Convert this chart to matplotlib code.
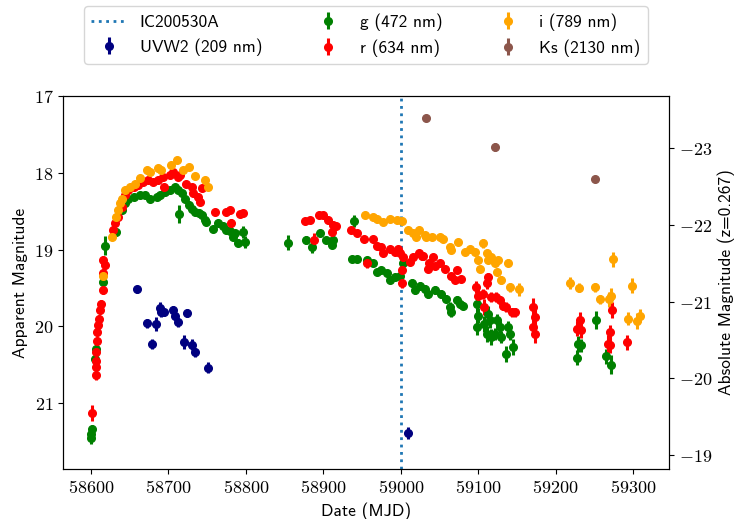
import matplotlib
matplotlib.use("Agg")
import matplotlib.pyplot as plt
from matplotlib.ticker import FuncFormatter, MultipleLocator
import numpy as np

plt.rcParams['mathtext.fontset'] = 'cm'

# ---------------- data ----------------
neutrino_mjd = 59000.0
neutrino_label = "IC200530A"
dist_mod = 40.68

uvw2_mjd = [58660, 58673, 58679, 58684, 58689, 58691, 58695, 58706, 58709, 58713,
            58720, 58724, 58731, 58735, 58751, 59009]
uvw2_mag = [19.52, 19.96, 20.23, 19.97, 19.76, 19.82, 19.82, 19.79, 19.86, 19.95,
            20.21, 19.83, 20.24, 20.34, 20.54, 21.39]
uvw2_err = [0.05, 0.06, 0.07, 0.09, 0.08, 0.06, 0.05, 0.05, 0.06, 0.06,
            0.09, 0.05, 0.07, 0.06, 0.07, 0.08]

g_mjd = [58599.6, 58600, 58601, 58605, 58607, 58616, 58618, 58633, 58640, 58644,
         58648, 58655, 58663, 58670, 58676, 58685, 58689, 58696, 58702, 58708,
         58713, 58714, 58717, 58721, 58726, 58730, 58734, 58739, 58743, 58747,
         58749, 58758, 58764, 58771, 58775, 58779, 58784, 58786, 58790, 58796,
         58799, 58854, 58878, 58885, 58896, 58904, 58911, 58913, 58937, 58940,
         58943, 58956, 58964, 58969, 58975, 58982, 58986, 58992, 58999, 59003,
         59014, 59018, 59025, 59031, 59035, 59044, 59052, 59059, 59063, 59065,
         59072, 59076, 59080, 59098, 59100, 59098, 59108, 59113, 59115, 59111,
         59117, 59121, 59124, 59128, 59130, 59138, 59141, 59136, 59145, 59227,
         59229, 59233, 59252, 59265, 59271]
g_mag = [21.46, 21.40, 21.34, 20.42, 20.29, 19.42, 18.95, 18.77, 18.49, 18.40,
         18.34, 18.31, 18.29, 18.29, 18.34, 18.31, 18.29, 18.25, 18.23, 18.18,
         18.23, 18.54, 18.27, 18.34, 18.42, 18.47, 18.51, 18.53, 18.55, 18.62,
         18.64, 18.73, 18.66, 18.70, 18.75, 18.76, 18.84, 18.79, 18.91, 18.77,
         18.90, 18.91, 18.88, 18.97, 18.79, 18.88, 18.94, 18.88, 19.12, 18.63,
         19.12, 19.14, 19.18, 19.29, 19.27, 19.31, 19.40, 19.36, 19.34, 19.18,
         19.44, 19.53, 19.47, 19.51, 19.58, 19.53, 19.58, 19.64, 19.75, 19.82,
         19.66, 19.71, 19.73, 19.71, 19.86, 20.01, 19.97, 19.84, 19.92, 20.10,
         20.14, 20.10, 19.92, 20.01, 20.14, 20.01, 20.10, 20.36, 20.27, 20.41,
         20.23, 20.25, 19.92, 20.39, 20.50]
g_err = [0.08, 0.06, 0.06, 0.05, 0.05, 0.05, 0.12, 0.03, 0.03, 0.03,
         0.03, 0.03, 0.03, 0.03, 0.03, 0.03, 0.03, 0.03, 0.03, 0.03,
         0.03, 0.12, 0.03, 0.03, 0.03, 0.03, 0.03, 0.03, 0.03, 0.03,
         0.03, 0.03, 0.03, 0.03, 0.03, 0.04, 0.04, 0.04, 0.05, 0.08,
         0.08, 0.10, 0.05, 0.08, 0.04, 0.04, 0.04, 0.04, 0.04, 0.08,
         0.04, 0.04, 0.04, 0.04, 0.04, 0.04, 0.04, 0.04, 0.04, 0.06,
         0.05, 0.05, 0.05, 0.05, 0.05, 0.05, 0.05, 0.05, 0.06, 0.06,
         0.05, 0.05, 0.05, 0.12, 0.10, 0.10, 0.10, 0.10, 0.10, 0.10,
         0.10, 0.08, 0.08, 0.08, 0.08, 0.08, 0.08, 0.10, 0.10, 0.10,
         0.10, 0.08, 0.12, 0.10, 0.12]

r_mjd = [58601, 58606, 58606, 58606, 58606.5, 58607.4, 58608, 58609.4, 58610.7, 58611.6,
         58612.9, 58616, 58616, 58616, 58618, 58629, 58631, 58635, 58640, 58644,
         58648, 58655, 58661, 58667, 58674, 58680, 58687, 58693, 58695, 58702,
         58706, 58713, 58715, 58723, 58730, 58732, 58738, 58741, 58743, 58760,
         58775, 58781, 58779, 58792, 58796, 58876, 58883, 58888, 58895, 58900,
         58906, 58913, 58916, 58911, 58936, 58943, 58953, 58956, 58964, 58969,
         58975, 58977, 58986, 58992, 58996, 58999, 59003, 59001, 59001, 59012,
         59016, 59024, 59027, 59029, 59035, 59037, 59042, 59044, 59050, 59057,
         59065, 59072, 59070, 59078, 59097, 59100, 59106, 59111, 59113, 59108,
         59117, 59123, 59128, 59132, 59136, 59143, 59147, 59171, 59173, 59171,
         59173, 59227, 59231, 59233, 59273, 59270, 59267, 59270, 59292]
r_mag = [21.13, 20.64, 20.53, 20.45, 20.34, 20.19, 20.08, 19.99, 19.90, 19.79,
         19.71, 19.53, 19.30, 19.14, 19.20, 18.75, 18.66, 18.57, 18.44, 18.29,
         18.23, 18.18, 18.16, 18.12, 18.10, 18.12, 18.10, 18.05, 18.18, 18.03,
         17.99, 18.05, 18.03, 18.14, 18.18, 18.27, 18.31, 18.38, 18.20, 18.51,
         18.51, 18.66, 18.49, 18.54, 18.53, 18.63, 18.61, 18.87, 18.55, 18.55,
         18.62, 18.68, 18.70, 18.77, 18.75, 18.79, 18.86, 19.18, 18.86, 18.95,
         18.97, 19.05, 18.99, 19.03, 18.99, 19.05, 19.10, 19.27, 19.44, 19.16,
         19.10, 19.05, 19.08, 19.09, 19.25, 19.18, 19.10, 19.21, 19.18, 19.25,
         19.34, 19.27, 19.40, 19.38, 19.49, 19.60, 19.58, 19.44, 19.36, 19.75,
         19.62, 19.62, 19.66, 19.73, 19.75, 19.82, 19.82, 19.75, 19.88, 20.01,
         20.10, 20.03, 19.92, 20.05, 19.79, 20.08, 20.23, 20.25, 20.21]
r_err = [0.10, 0.06, 0.05, 0.05, 0.05, 0.05, 0.05, 0.05, 0.05, 0.05,
         0.05, 0.05, 0.05, 0.05, 0.05, 0.03, 0.03, 0.03, 0.03, 0.03,
         0.03, 0.03, 0.03, 0.03, 0.03, 0.03, 0.03, 0.03, 0.03, 0.03,
         0.03, 0.03, 0.03, 0.03, 0.03, 0.03, 0.03, 0.03, 0.03, 0.03,
         0.03, 0.06, 0.03, 0.03, 0.03, 0.03, 0.03, 0.08, 0.03, 0.03,
         0.03, 0.03, 0.03, 0.03, 0.03, 0.03, 0.03, 0.06, 0.03, 0.04,
         0.04, 0.04, 0.04, 0.04, 0.04, 0.04, 0.04, 0.06, 0.06, 0.04,
         0.04, 0.04, 0.04, 0.04, 0.04, 0.04, 0.04, 0.04, 0.04, 0.04,
         0.04, 0.04, 0.04, 0.04, 0.08, 0.08, 0.06, 0.08, 0.06, 0.10,
         0.06, 0.06, 0.06, 0.06, 0.06, 0.06, 0.06, 0.12, 0.12, 0.12,
         0.12, 0.10, 0.10, 0.10, 0.10, 0.10, 0.12, 0.10, 0.10]

i_mjd = [58616, 58627, 58633, 58635, 58637, 58640, 58644, 58650, 58657, 58663,
         58672, 58676, 58687, 58691, 58704, 58711, 58719, 58726, 58734, 58747,
         58751, 58954, 58964, 58969, 58977, 58986, 58995, 59001, 59009, 59016,
         59020, 59024, 59031, 59033, 59040, 59050, 59055, 59063, 59065, 59074,
         59083, 59089, 59096, 59100, 59102, 59106, 59111, 59113, 59117, 59121,
         59124, 59126, 59130, 59139, 59141, 59153, 59219, 59230, 59251, 59257,
         59269, 59271, 59274, 59293, 59298, 59305, 59309]
i_mag = [19.34, 18.84, 18.57, 18.49, 18.40, 18.34, 18.23, 18.18, 18.14, 18.07,
         17.97, 17.99, 17.94, 17.97, 17.90, 17.84, 17.96, 17.92, 18.04, 18.10,
         18.19, 18.55, 18.57, 18.60, 18.64, 18.60, 18.62, 18.63, 18.74, 18.79,
         18.84, 18.75, 18.81, 18.84, 18.84, 18.84, 18.86, 18.97, 19.01, 18.90,
         19.03, 18.99, 19.03, 19.14, 19.25, 18.92, 19.05, 19.14, 19.10, 19.18,
         19.29, 19.14, 19.40, 19.17, 19.49, 19.52, 19.44, 19.50, 19.49, 19.65,
         19.65, 19.60, 19.13, 19.90, 19.47, 19.93, 19.86]
i_err = [0.04, 0.03, 0.03, 0.03, 0.03, 0.03, 0.03, 0.03, 0.03, 0.03,
         0.03, 0.03, 0.03, 0.03, 0.03, 0.03, 0.03, 0.03, 0.03, 0.03,
         0.03, 0.03, 0.03, 0.03, 0.03, 0.03, 0.03, 0.03, 0.03, 0.03,
         0.03, 0.03, 0.03, 0.03, 0.03, 0.03, 0.03, 0.03, 0.03, 0.03,
         0.03, 0.03, 0.03, 0.04, 0.04, 0.06, 0.04, 0.04, 0.04, 0.04,
         0.04, 0.04, 0.05, 0.05, 0.06, 0.08, 0.08, 0.06, 0.06, 0.06,
         0.10, 0.10, 0.10, 0.08, 0.10, 0.10, 0.08]

ks_mjd = [59032, 59121, 59251]
ks_mag = [17.29, 17.66, 18.08]
ks_err = [0.04, 0.05, 0.02]

bands = [
    ("UVW2 (209 nm)", uvw2_mjd, uvw2_mag, uvw2_err, "navy"),
    ("g (472 nm)", g_mjd, g_mag, g_err, "green"),
    ("r (634 nm)", r_mjd, r_mag, r_err, "red"),
    ("i (789 nm)", i_mjd, i_mag, i_err, "orange"),
    ("Ks (2130 nm)", ks_mjd, ks_mag, ks_err, "tab:brown"),
]

# ---------------- plot ----------------
fig = plt.figure(figsize=(7.37, 5.19), dpi=100)
ax = fig.add_axes([0.0855, 0.0963, 0.822, 0.7187])

ax.axvline(neutrino_mjd, color="tab:blue", linestyle=":", linewidth=2, label=neutrino_label)
for label, x, y, e, c in bands:
    ax.errorbar(x, y, yerr=e, fmt="o", color=c, markersize=5.5, elinewidth=2.2,
                capsize=0, label=label)

ax.set_xlim(58564, 59346)
ax.set_ylim(21.86, 17.0)
ax.xaxis.set_major_locator(MultipleLocator(100))
ax.yaxis.set_major_locator(MultipleLocator(1))
fmt = FuncFormatter(lambda v, p: r"$%d$" % round(v))
ax.xaxis.set_major_formatter(fmt)
ax.yaxis.set_major_formatter(fmt)
ax.tick_params(labelsize=13)

ax2 = ax.twinx()
lo, hi = ax.get_ylim()
ax2.set_ylim(lo - dist_mod, hi - dist_mod)
ax2.yaxis.set_major_locator(MultipleLocator(1))
ax2.yaxis.set_major_formatter(fmt)
ax2.tick_params(labelsize=13)

lab_font = dict(family="cmss10", size=12.5)
ax.set_xlabel("Date (MJD)", fontdict=lab_font)
ax.set_ylabel("Apparent Magnitude", fontdict=lab_font)
ax2.set_ylabel("Absolute Magnitude (z=0.267)", fontdict=lab_font)

ax.legend(loc="lower center", bbox_to_anchor=(0.5, 1.063), ncol=3,
          prop=dict(family="cmss10", size=12.5), columnspacing=2.8)

fig.savefig("out.png", dpi=100)
